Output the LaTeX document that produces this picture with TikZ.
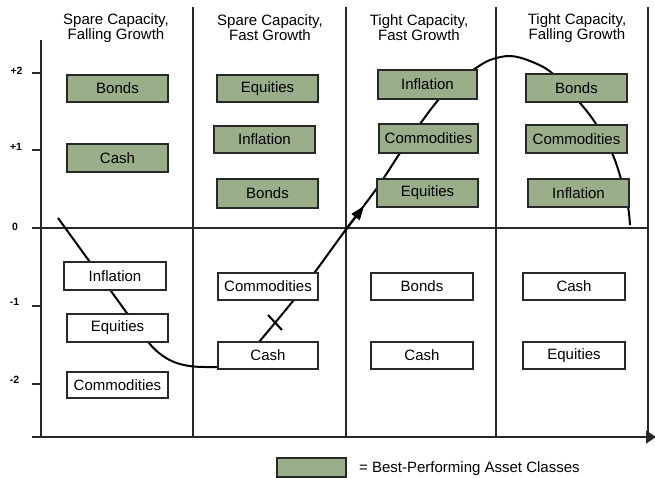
\documentclass[tikz,border=0pt]{standalone}
\usepackage{fontspec}
\setmainfont{Liberation Sans}
\usetikzlibrary{arrows.meta}
\definecolor{best}{RGB}{154,174,138}
\definecolor{ink}{RGB}{40,40,40}
\begin{document}
\begin{tikzpicture}[x=1pt,y=-1pt,
  gridline/.style={draw=ink, line width=1.3pt},
  assetbox/.style={draw=ink, line width=1.3pt, fill=white, minimum width=101pt, minimum height=28pt, inner sep=0pt, font=\fontsize{15}{15}\selectfont},
  bestbox/.style={assetbox, fill=best},
  header/.style={align=center, inner sep=0pt, font=\fontsize{15}{13.5}\selectfont},
  ticklabel/.style={inner sep=0pt, font=\bfseries\fontsize{10.5}{11}\selectfont},
  trend/.style={draw=black, line width=2pt}]
\useasboundingbox (0,0) rectangle (655,478);

% frame and axes
\coordinate (ytop) at (41,40);
\coordinate (ybot) at (41,437);
\coordinate (xl) at (32,437);
\coordinate (xr) at (656,437);
\coordinate (zl) at (32,228);
\coordinate (zr) at (648,228);
\draw[gridline] (ytop) -- (ybot);
\draw[gridline, -{Triangle[length=10pt,width=13pt]}] (xl) -- (xr);
\draw[gridline] (zl) -- (zr);
\foreach \x/\n in {193/a,346/b,496/c,648/d}{
  \coordinate (top\n) at (\x,7);
  \coordinate (bot\n) at (\x,437);
  \draw[gridline] (top\n) -- (bot\n);
}
\foreach \y/\n in {73/p2,150/p1,306/m1,384/m2}{
  \coordinate (tk\n) at (32,\y);
  \coordinate (tke\n) at (41,\y);
  \draw[gridline] (tk\n) -- (tke\n);
}

% tick labels
\node[ticklabel] (tp2) at (16.5,70.5) {+2};
\node[ticklabel] (tp1) at (16,146.5) {+1};
\node[ticklabel] (t0)  at (15,227) {0};
\node[ticklabel] (tm1) at (14.5,302) {-1};
\node[ticklabel] (tm2) at (14.5,380) {-2};

% headers
\node[header] (h1) at (116,28) {Spare Capacity,\\Falling Growth};
\node[header] (h2) at (270,28) {Spare Capacity,\\Fast Growth};
\node[header] (h3) at (419,28) {Tight Capacity,\\Fast Growth};
\node[header] (h4) at (577,28) {Tight Capacity,\\Falling Growth};

% cycle curve
\draw[trend] (58,218) -- (145,338) .. controls (162,361) and (180,367) .. (205,367) -- (232,367)
  -- plot[smooth, tension=0.55] coordinates {(259,342) (293,301) (315,272) (347,228) (377,188) (400,153) (420,124) (439,99) (456,82) (473,70) (490,60) (510,56) (530,61) (552,73) (580,103) (596,124) (612,153) (621,179) (628,207) (630,225)};
\coordinate (arrA) at (345,231);
\coordinate (arrB) at (364,206);
\draw[trend, -{Triangle[length=14pt,width=10pt]}] (arrA) -- (arrB);
\coordinate (crA) at (268,315);
\coordinate (crB) at (282,330);
\draw[trend] (crA) -- (crB);

% best-performing boxes
\node[bestbox, minimum height=27pt] (c1b1) at (117.5,88.5) {Bonds};
\node[bestbox] (c1b2) at (117.5,158) {Cash};
\node[bestbox, minimum height=27pt] (c2b1) at (267.5,88.5) {Equities};
\node[bestbox, minimum height=27pt] (c2b2) at (264.5,139.5) {Inflation};
\node[bestbox, minimum height=29pt] (c2b3) at (267.5,193.5) {Bonds};
\node[bestbox, minimum width=99pt, minimum height=29pt] (c3b1) at (427.5,84.5) {Inflation};
\node[bestbox, minimum width=99pt, minimum height=29pt] (c3b2) at (428.5,138.5) {Commodities};
\node[bestbox] (c3b3) at (427.5,193) {Equities};
\node[bestbox] (c4b1) at (576.5,88) {Bonds};
\node[bestbox] (c4b2) at (576.5,139) {Commodities};
\node[bestbox] (c4b3) at (578.5,193) {Inflation};

% other boxes
\node[assetbox, minimum width=102pt] (c1w1) at (115,276) {Inflation};
\node[assetbox] (c1w2) at (117.5,328) {Equities};
\node[assetbox, minimum height=26pt] (c1w3) at (117.5,385) {Commodities};
\node[assetbox, minimum width=100pt, minimum height=27pt] (c2w1) at (268,286.5) {Commodities};
\node[assetbox, minimum width=100pt, minimum height=27pt] (c2w2) at (268,355.5) {Cash};
\node[assetbox, minimum width=102pt, minimum height=27pt] (c3w1) at (422,286.5) {Bonds};
\node[assetbox, minimum width=102pt, minimum height=27pt] (c3w2) at (422,355.5) {Cash};
\node[assetbox, minimum width=102pt, minimum height=27pt] (c4w1) at (574,286.5) {Cash};
\node[assetbox, minimum width=102pt, minimum height=27pt] (c4w2) at (574,355.5) {Equities};

% legend
\node[bestbox, minimum width=69pt, minimum height=19pt] (legbox) at (311.5,467.5) {};
\node[anchor=west, inner sep=0pt, font=\fontsize{15}{15}\selectfont] (legtext) at (359,469) {= Best-Performing Asset Classes};
\end{tikzpicture}
\end{document}
